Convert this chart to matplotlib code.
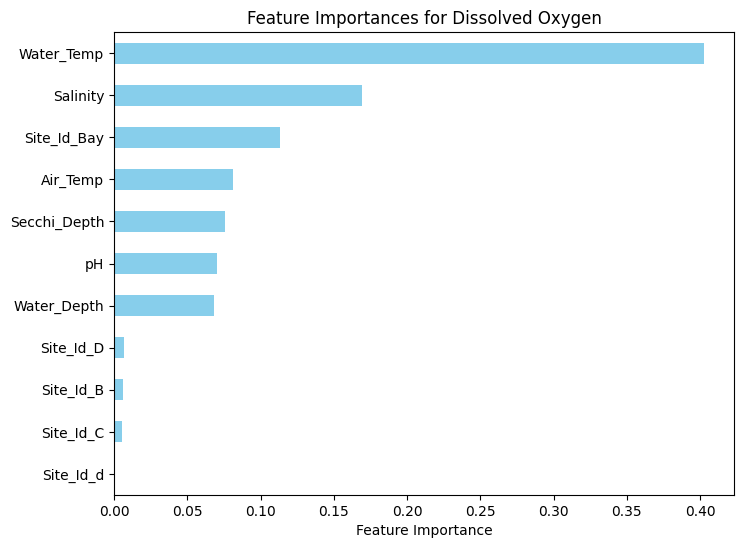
import matplotlib
matplotlib.use("Agg")
import matplotlib.pyplot as plt

features = ["Water_Temp", "Salinity", "Site_Id_Bay", "Air_Temp", "Secchi_Depth", "pH",
            "Water_Depth", "Site_Id_D", "Site_Id_B", "Site_Id_C", "Site_Id_d"]
importances = [0.403, 0.169, 0.113, 0.081, 0.076, 0.070, 0.068, 0.0067, 0.006, 0.0053, 0.0]

fig = plt.figure(figsize=(7.44, 5.47), dpi=100)
ax = fig.add_axes([114/744, 1 - 495/547, 620/744, 463/547])
feats = features[::-1]
vals = importances[::-1]
ax.barh(range(len(feats)), vals, height=0.5, color="skyblue")
ax.set_yticks(range(len(feats)))
ax.set_yticklabels(feats)
ax.set_ylim(-0.5, len(feats) - 0.5)
ax.set_xlabel("Feature Importance")
ax.set_title("Feature Importances for Dissolved Oxygen")
fig.savefig("out.png", dpi=100)
